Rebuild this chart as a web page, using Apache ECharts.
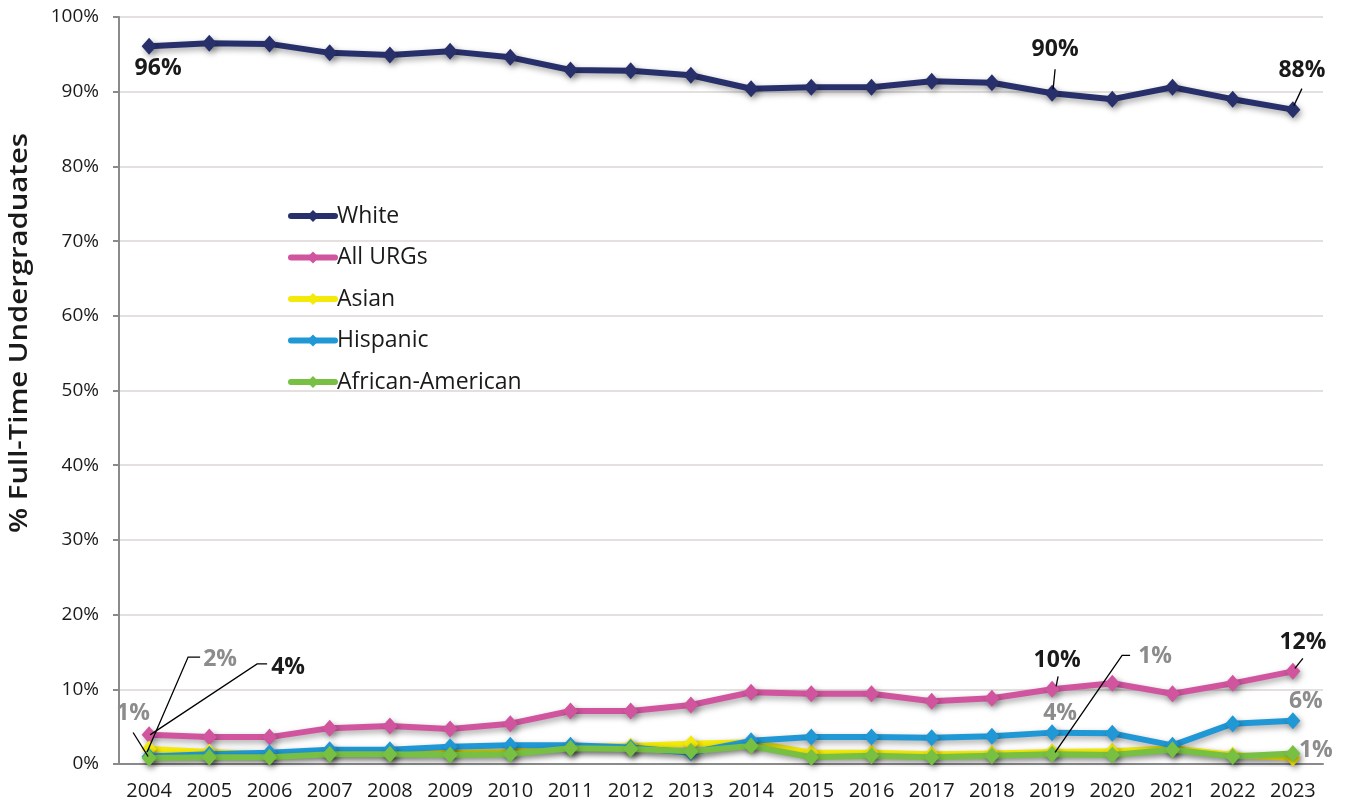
<!DOCTYPE html>
<html>
<head>
<meta charset="utf-8">
<script src="https://cdn.jsdelivr.net/npm/echarts@6/dist/echarts.min.js"></script>
<style>
  html, body { margin: 0; padding: 0; background: #ffffff; }
  #chart { width: 1347px; height: 809px; }
</style>
</head>
<body>
<div id="chart"></div>
<script>
// Share of full-time undergraduates by race/ethnicity, 2004-2023
const years = ['2004','2005','2006','2007','2008','2009','2010','2011','2012','2013',
               '2014','2015','2016','2017','2018','2019','2020','2021','2022','2023'];

const white    = [96.1, 96.5, 96.4, 95.2, 94.9, 95.4, 94.6, 92.9, 92.8, 92.2,
                  90.4, 90.6, 90.6, 91.4, 91.2, 89.8, 89.0, 90.6, 89.0, 87.6];
const allUrgs  = [3.9, 3.6, 3.6, 4.8, 5.1, 4.7, 5.4, 7.1, 7.1, 7.9,
                  9.6, 9.4, 9.4, 8.4, 8.8, 10.0, 10.8, 9.4, 10.8, 12.4];
const asian    = [2.0, 1.6, 1.3, 1.5, 1.4, 1.5, 1.6, 2.3, 2.4, 2.7,
                  2.9, 1.5, 1.5, 1.3, 1.4, 1.6, 1.7, 2.1, 1.2, 0.8];
const hispanic = [1.0, 1.3, 1.5, 1.9, 1.9, 2.3, 2.5, 2.5, 2.2, 1.5,
                  3.1, 3.6, 3.6, 3.5, 3.7, 4.2, 4.1, 2.5, 5.4, 5.8];
const african  = [0.8, 0.9, 0.9, 1.3, 1.3, 1.2, 1.3, 2.1, 2.0, 1.7,
                  2.4, 0.9, 1.1, 0.9, 1.1, 1.3, 1.2, 1.9, 1.0, 1.4];

const yTicks = [0, 10, 20, 30, 40, 50, 60, 70, 80, 90, 100];

const groups = [
  { name: 'White',            data: white,    color: '#28306b' },
  { name: 'All URGs',         data: allUrgs,  color: '#d0559e' },
  { name: 'Asian',            data: asian,    color: '#f3ea0a' },
  { name: 'Hispanic',         data: hispanic, color: '#2098d5' },
  { name: 'African-American', data: african,  color: '#77c044' }
];

const FONT = "'Open Sans', 'Noto Sans', sans-serif";
const INK = '#1a1a1a';
const MUTED = '#8c8c8c';

// Callouts: which point, text colour, text offset from the point and
// an optional leader path (offsets from the point, in pixels)
const callouts = [
  { s: 0, i: 0,  color: INK,   dx: 9,   dy: 22 },
  { s: 0, i: 15, color: INK,   dx: 3,   dy: -44, path: [[3, -24], [1, -4]] },
  { s: 0, i: 19, color: INK,   dx: 9,   dy: -39, path: [[9, -21], [1, -4]] },
  { s: 1, i: 0,  color: INK,   dx: 139, dy: -67, path: [[118, -71], [108, -71], [1, 0]] },
  { s: 1, i: 15, color: INK,   dx: 5,   dy: -29, path: [[6, -13], [4, -3]] },
  { s: 1, i: 19, color: INK,   dx: 10,  dy: -29, path: [[10, -13], [2, -3]] },
  { s: 2, i: 0,  color: MUTED, dx: 71,  dy: -90, path: [[51, -92], [39, -92], [-2, 3]] },
  { s: 3, i: 0,  color: MUTED, dx: -16, dy: -43, path: [[-16, -24], [-1, 0]] },
  { s: 3, i: 15, color: MUTED, dx: 8,   dy: -19 },
  { s: 3, i: 19, color: MUTED, dx: 13,  dy: -19 },
  { s: 4, i: 15, color: MUTED, dx: 103, dy: -98, path: [[78, -99], [70, -99], [3, -2]] },
  { s: 4, i: 19, color: MUTED, dx: 23,  dy: -3 }
];

const chart = echarts.init(document.getElementById('chart'), null, { renderer: 'canvas' });

const shadow = { shadowColor: 'rgba(0,0,0,0.35)', shadowBlur: 6, shadowOffsetX: 2, shadowOffsetY: 3 };

chart.setOption({
  animation: false,
  backgroundColor: '#ffffff',
  grid: { left: 119, right: 24, top: 17, bottom: 45, containLabel: false },
  legend: {
    orient: 'vertical',
    left: 283,
    top: 199,
    itemWidth: 44,
    itemHeight: 15,
    itemGap: 17.5,
    data: groups.map(g => g.name),
    itemStyle: { shadowBlur: 0, shadowOffsetX: 0, shadowOffsetY: 0 },
    lineStyle: { width: 6, shadowBlur: 0, shadowOffsetX: 0, shadowOffsetY: 0, cap: 'round' },
    textStyle: { fontFamily: FONT, fontSize: 23, color: INK, lineHeight: 24, padding: [0, 0, 0, -3] }
  },
  xAxis: {
    type: 'category',
    data: years,
    boundaryGap: true,
    axisLine: { show: true, lineStyle: { color: '#8a8a8a', width: 2 } },
    axisTick: { show: false },
    axisLabel: { fontFamily: FONT, fontSize: 20, color: INK, margin: 17 }
  },
  yAxis: {
    type: 'value',
    min: yTicks[0],
    max: yTicks[yTicks.length - 1],
    interval: yTicks[1] - yTicks[0],
    axisLine: { show: true, lineStyle: { color: '#8a8a8a', width: 2 } },
    axisTick: { show: true, length: 6, lineStyle: { color: '#8a8a8a', width: 2 } },
    axisLabel: { fontFamily: FONT, fontSize: 19, color: INK, margin: 20, formatter: '{value}%' },
    splitLine: { show: true, lineStyle: { color: '#e4e0e0', width: 2 } }
  },
  series: groups.map((g, k) => ({
    name: g.name,
    type: 'line',
    data: g.data,
    z: 2 + k,
    symbol: 'diamond',
    symbolSize: [15, 17],
    showAllSymbol: true,
    color: g.color,
    lineStyle: Object.assign({ color: g.color, width: 6 }, shadow),
    itemStyle: Object.assign({ color: g.color, borderWidth: 0 }, shadow),
    emphasis: { disabled: true }
  }))
});

// Axis title and callouts are placed from the data via the grid's own scales
function drawNotes() {
  const els = [{
    type: 'text',
    x: 20, y: 333,
    rotation: Math.PI / 2,
    scaleX: 1.17,
    style: {
      text: '% Full-Time Undergraduates',
      font: "600 25px " + FONT,
      fill: INK,
      align: 'center',
      verticalAlign: 'middle'
    },
    z: 100
  }];
  callouts.forEach(c => {
    const v = groups[c.s].data[c.i];
    const p = chart.convertToPixel({ gridIndex: 0 }, [c.i, v]);
    if (c.path) {
      els.push({
        type: 'polyline',
        shape: { points: c.path.map(o => [p[0] + o[0], p[1] + o[1]]) },
        style: { stroke: '#000000', lineWidth: 1.3, fill: null },
        z: 100
      });
    }
    els.push({
      type: 'text',
      x: p[0] + c.dx, y: p[1] + c.dy,
      style: {
        text: Math.round(v) + '%',
        font: "bold 23px " + FONT,
        fill: c.color,
        align: 'center',
        verticalAlign: 'middle'
      },
      z: 101
    });
  });
  chart.setOption({ graphic: els });
}
drawNotes();
</script>
</body>
</html>
